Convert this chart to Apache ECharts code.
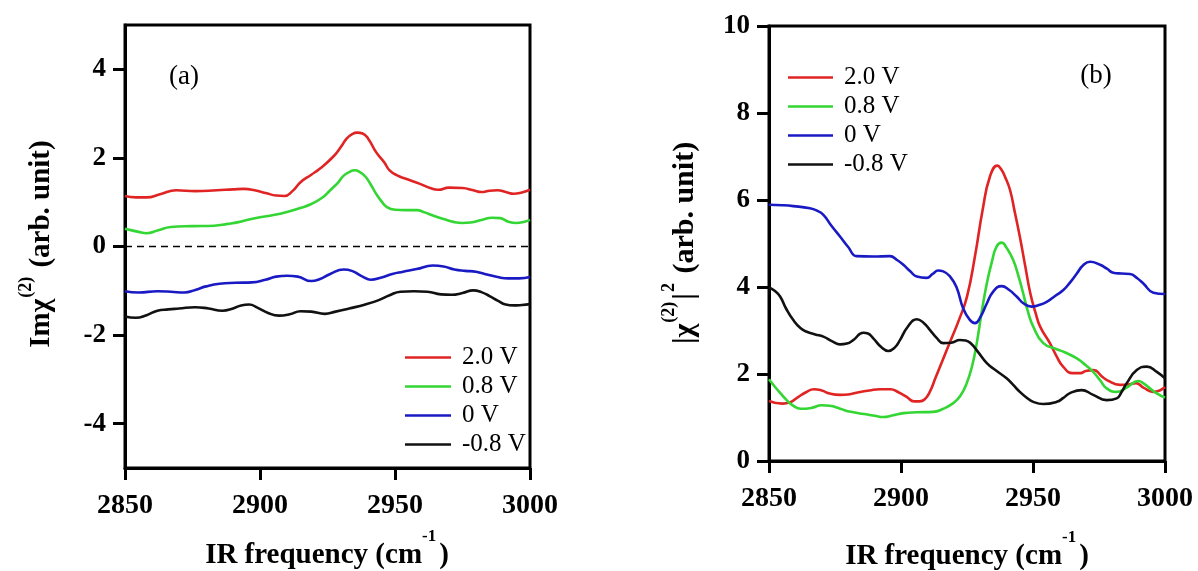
<!DOCTYPE html>
<html>
<head>
<meta charset="utf-8">
<script src="https://cdn.jsdelivr.net/npm/echarts@6/dist/echarts.min.js"></script>
<style>
html,body{margin:0;padding:0;background:#fff;}
#chart{width:1198px;height:571px;}
</style>
</head>
<body>
<div id="chart"></div>
<script>
// ---- data ----
const seriesNames = ['2.0 V', '0.8 V', '0 V', '-0.8 V'];
const freqTicks = [2850, 2900, 2950, 3000];
const aYTicks = [-4, -2, 0, 2, 4];
const bYTicks = [0, 2, 4, 6, 8, 10];

// panel (a): Im chi(2)
const aRed = [[2850,1.14],[2854,1.11],[2858,1.11],[2863,1.18],[2869,1.27],[2876,1.25],[2884,1.27],[2890,1.29],[2894,1.30],[2898,1.27],[2902.5,1.20],[2906,1.15],[2909,1.14],[2912,1.25],[2915,1.45],[2919,1.62],[2922,1.75],[2927,2.02],[2930,2.25],[2932,2.43],[2934,2.53],[2936,2.57],[2938,2.55],[2940,2.44],[2943,2.13],[2946,1.90],[2948,1.72],[2951,1.60],[2954,1.53],[2959,1.42],[2963,1.32],[2966,1.28],[2970,1.33],[2975,1.32],[2979,1.27],[2982,1.23],[2985,1.26],[2988,1.27],[2991,1.23],[2994,1.19],[2997,1.22],[3000,1.28]];
const aGreen = [[2850,0.40],[2855,0.33],[2858,0.30],[2862,0.36],[2867,0.44],[2875,0.46],[2883,0.47],[2888,0.51],[2892,0.55],[2896,0.61],[2900,0.66],[2905,0.71],[2910,0.78],[2915,0.87],[2919,0.96],[2923,1.10],[2926,1.27],[2929,1.45],[2931,1.60],[2933,1.68],[2935,1.72],[2937,1.68],[2939,1.58],[2941,1.40],[2943,1.19],[2945,1.02],[2947,0.89],[2950,0.83],[2954,0.82],[2958,0.82],[2961,0.77],[2964,0.70],[2968,0.62],[2972,0.55],[2975,0.53],[2978,0.54],[2982,0.60],[2986,0.65],[2989,0.64],[2992,0.56],[2995,0.53],[2998,0.56],[3000,0.60]];
const aBlue = [[2850,-1.01],[2855,-1.04],[2862,-1.01],[2867,-1.02],[2872,-1.04],[2876,-0.98],[2880,-0.90],[2885,-0.84],[2891,-0.82],[2897,-0.81],[2902,-0.75],[2906,-0.68],[2910,-0.66],[2914,-0.68],[2919,-0.78],[2922,-0.74],[2926,-0.62],[2931,-0.52],[2934,-0.55],[2938,-0.68],[2941,-0.75],[2945,-0.70],[2949,-0.62],[2953,-0.57],[2958,-0.51],[2964,-0.43],[2968,-0.45],[2972,-0.52],[2976,-0.55],[2980,-0.57],[2984,-0.63],[2988,-0.69],[2992,-0.72],[2996,-0.72],[3000,-0.69]];
const aBlack = [[2850,-1.58],[2854,-1.61],[2858,-1.55],[2862,-1.45],[2866,-1.42],[2870,-1.40],[2876,-1.37],[2881,-1.40],[2886,-1.45],[2890,-1.40],[2893,-1.33],[2896,-1.31],[2899,-1.38],[2903,-1.50],[2907,-1.56],[2911,-1.53],[2915,-1.46],[2919,-1.47],[2924,-1.52],[2928,-1.47],[2933,-1.40],[2939,-1.31],[2944,-1.21],[2948,-1.10],[2952,-1.02],[2957,-1.01],[2962,-1.02],[2967,-1.08],[2971,-1.09],[2975,-1.05],[2979,-0.99],[2982,-1.03],[2985,-1.12],[2988,-1.22],[2991,-1.31],[2994,-1.33],[2997,-1.32],[3000,-1.30]];

// panel (b): |chi(2)|^2
const bRed = [[2850,1.38],[2855,1.32],[2858,1.35],[2861,1.47],[2864,1.58],[2867,1.65],[2870,1.62],[2873,1.55],[2877,1.52],[2880,1.53],[2884,1.58],[2888,1.62],[2892,1.65],[2896,1.65],[2899,1.58],[2902,1.48],[2905,1.37],[2907,1.37],[2909,1.42],[2911,1.60],[2913,1.90],[2915,2.20],[2918.6,2.74],[2922,3.25],[2925,3.78],[2928,4.7],[2931,5.8],[2933.7,6.54],[2936.5,6.79],[2938,6.70],[2939.5,6.52],[2941.3,6.23],[2943,5.75],[2945,5.16],[2947,4.5],[2949,3.85],[2951,3.4],[2952.7,3.09],[2956.4,2.71],[2959,2.4],[2961.4,2.17],[2965,2.02],[2968,2.02],[2970,2.07],[2973,2.09],[2976,1.95],[2978,1.86],[2983,1.75],[2986,1.76],[2989,1.79],[2992,1.68],[2995.5,1.59],[2998,1.62],[3000,1.70]];
const bGreen = [[2850,1.88],[2853,1.65],[2856.7,1.40],[2859,1.28],[2862,1.20],[2866,1.22],[2870,1.28],[2873,1.27],[2877,1.20],[2881,1.13],[2886,1.08],[2890,1.04],[2893.3,1.01],[2897,1.05],[2901,1.10],[2906,1.12],[2912,1.13],[2916,1.20],[2919.8,1.33],[2922.5,1.5],[2924.9,1.79],[2927,2.2],[2928.7,2.71],[2930.5,3.4],[2932.5,4.08],[2934.5,4.6],[2936.2,4.93],[2938.1,5.02],[2940,4.9],[2942.5,4.62],[2944.5,4.25],[2946.3,3.85],[2948,3.45],[2950.1,3.09],[2953.9,2.71],[2959,2.57],[2962,2.50],[2966.6,2.36],[2970,2.2],[2972.8,2.05],[2975.5,1.85],[2977.9,1.67],[2981.7,1.59],[2985.5,1.69],[2989.9,1.84],[2992,1.78],[2994.3,1.67],[2997,1.55],[3000,1.46]];
const bBlue = [[2850,5.89],[2855,5.88],[2859.2,5.86],[2865.5,5.81],[2868,5.76],[2870.6,5.66],[2873.5,5.42],[2876.9,5.16],[2880,4.92],[2883.2,4.71],[2889.5,4.70],[2895.8,4.71],[2898.5,4.62],[2900.9,4.51],[2903.5,4.36],[2906,4.24],[2909.7,4.21],[2912,4.30],[2914.1,4.38],[2916,4.36],[2918.6,4.24],[2921,4.0],[2923.6,3.5],[2926,3.25],[2928,3.17],[2930,3.30],[2932.5,3.62],[2935,3.9],[2938.1,4.02],[2941,3.93],[2943.8,3.78],[2946.5,3.62],[2949.5,3.55],[2952,3.58],[2955.2,3.66],[2958.5,3.80],[2961.5,3.93],[2964,4.1],[2966.6,4.31],[2969,4.50],[2971.6,4.58],[2975.4,4.51],[2978,4.42],[2980.4,4.33],[2983.5,4.31],[2986.7,4.30],[2989.5,4.2],[2991.8,4.08],[2995.6,3.87],[3000,3.84]];
const bBlack = [[2850,3.99],[2852,3.92],[2854.2,3.78],[2856.5,3.5],[2859.2,3.24],[2862,3.05],[2864.3,2.97],[2867.5,2.91],[2870.6,2.86],[2874,2.75],[2876.9,2.68],[2879.5,2.70],[2881.9,2.78],[2885.7,2.95],[2887.5,2.93],[2889.5,2.82],[2892.5,2.62],[2895.2,2.53],[2897.5,2.60],[2899.6,2.78],[2902.5,3.08],[2906,3.26],[2908.5,3.18],[2911,3.01],[2913.5,2.83],[2916,2.71],[2919,2.72],[2922.3,2.78],[2924.5,2.77],[2926.5,2.70],[2929,2.52],[2932.5,2.25],[2936,2.08],[2940,1.90],[2942.5,1.75],[2945,1.59],[2947.5,1.46],[2950.1,1.36],[2953.9,1.31],[2959,1.36],[2961.5,1.45],[2964,1.56],[2968.4,1.63],[2972.8,1.52],[2977.9,1.40],[2981.7,1.44],[2983.5,1.58],[2985.5,1.79],[2989.3,2.09],[2993.1,2.17],[2996.9,2.05],[3000,1.90]];

// ---- styling ----
const colors = ['#e02424', '#33d633', '#1a1ac4', '#111111'];
const SERIF = '"Liberation Serif", "Times New Roman", serif';
const chart = echarts.init(document.getElementById('chart'), null, {renderer: 'canvas'});

function xAxisCfg(gi) {
  return {
    gridIndex: gi, type: 'value', min: 2850, max: 3000, interval: 50,
    axisLine: {onZero: false, lineStyle: {color: '#000', width: 3}},
    axisTick: {inside: false, length: 12, lineStyle: {color: '#000', width: 3}, customValues: freqTicks},
    axisLabel: {margin: 24, fontFamily: SERIF, fontWeight: 'bold', fontSize: 28, color: '#000', customValues: freqTicks,
      formatter: function (v) { return String(v); }},
    splitLine: {show: false}
  };
}
function yAxisCfg(gi, min, max, ticks) {
  return {
    gridIndex: gi, type: 'value', min: min, max: max,
    axisLine: {onZero: false, lineStyle: {color: '#000', width: 3}},
    axisTick: {inside: false, length: 12, lineStyle: {color: '#000', width: 3}, customValues: ticks},
    axisLabel: {margin: 19, fontFamily: SERIF, fontWeight: 'bold', fontSize: 27, color: '#000', customValues: ticks,
      formatter: function (v) { return String(v); }},
    splitLine: {show: false}
  };
}
function lineSeries(name, data, color, gi, extra) {
  return Object.assign({
    name: name, type: 'line', xAxisIndex: gi, yAxisIndex: gi, data: data,
    symbol: 'none', showSymbol: false, smooth: 0.5,
    lineStyle: {color: color, width: 2.6}, itemStyle: {color: color}, z: 3
  }, extra || {});
}
const legendText = {fontFamily: SERIF, fontSize: 25, color: '#000', lineHeight: 25, padding: [0, 0, 0, 6]};
const legendData = seriesNames.map(function (n) { return {name: n, icon: 'rect'}; });

const option = {
  animation: false,
  backgroundColor: '#fff',
  grid: [
    {left: 125, right: 668, top: 25, bottom: 103, show: true, borderColor: '#000', borderWidth: 3, backgroundColor: 'transparent'},
    {left: 769, right: 33, top: 26, bottom: 110, show: true, borderColor: '#000', borderWidth: 3, backgroundColor: 'transparent'}
  ],
  xAxis: [xAxisCfg(0), xAxisCfg(1)],
  yAxis: [yAxisCfg(0, -5, 5, aYTicks), yAxisCfg(1, 0, 10, bYTicks)],
  legend: [
    {orient: 'vertical', left: 405, top: 345, padding: 0, itemWidth: 46, itemHeight: 2.6, itemGap: 4, textStyle: legendText, data: legendData},
    {orient: 'vertical', left: 788, top: 65, padding: 0, itemWidth: 45, itemHeight: 2.6, itemGap: 4, textStyle: legendText, data: legendData}
  ],
  series: [
    lineSeries(seriesNames[0], aRed, colors[0], 0, {
      markLine: {silent: true, symbol: ['none', 'none'], label: {show: false},
        lineStyle: {color: '#000', type: [7, 5], width: 1.3}, data: [{yAxis: 0}]}
    }),
    lineSeries(seriesNames[1], aGreen, colors[1], 0),
    lineSeries(seriesNames[2], aBlue, colors[2], 0),
    lineSeries(seriesNames[3], aBlack, colors[3], 0),
    lineSeries(seriesNames[0], bRed, colors[0], 1),
    lineSeries(seriesNames[1], bGreen, colors[1], 1),
    lineSeries(seriesNames[2], bBlue, colors[2], 1),
    lineSeries(seriesNames[3], bBlack, colors[3], 1)
  ],
  graphic: [
    {type: 'text', x: 184, y: 77, style: {text: '(a)', font: '27px ' + SERIF, fill: '#000', align: 'center', verticalAlign: 'middle'}},
    {type: 'text', x: 1096, y: 76, style: {text: '(b)', font: '27px ' + SERIF, fill: '#000', align: 'center', verticalAlign: 'middle'}},
    {type: 'text', x: 327, y: 556, style: {
      text: 'IR frequency (cm{s|-1})', font: 'bold 29px ' + SERIF, fill: '#000', align: 'center', verticalAlign: 'middle', lineHeight: 56,
      rich: {s: {fontFamily: SERIF, fontWeight: 'bold', fontSize: 17, verticalAlign: 'top', lineHeight: 17, padding: [0, 3, 0, 0]}}}},
    {type: 'text', x: 967, y: 557, style: {
      text: 'IR frequency (cm{s|-1})', font: 'bold 29px ' + SERIF, fill: '#000', align: 'center', verticalAlign: 'middle', lineHeight: 56,
      rich: {s: {fontFamily: SERIF, fontWeight: 'bold', fontSize: 17, verticalAlign: 'top', lineHeight: 17, padding: [0, 3, 0, 0]}}}},
    {type: 'text', x: 42, y: 244, rotation: Math.PI / 2, style: {
      text: 'Im\u03c7{s|(2)} (arb. unit)', font: 'bold 29px ' + SERIF, fill: '#000', align: 'center', verticalAlign: 'middle', lineHeight: 50,
      rich: {s: {fontFamily: SERIF, fontWeight: 'bold', fontSize: 18, verticalAlign: 'top', lineHeight: 18, padding: [0, 2, 0, 1]}}}},
    {type: 'text', x: 685, y: 243, rotation: Math.PI / 2, style: {
      text: '|\u03c7{s|(2)}|{s|2} (arb. unit)', font: 'bold 30px ' + SERIF, fill: '#000', align: 'center', verticalAlign: 'middle', lineHeight: 50,
      rich: {s: {fontFamily: SERIF, fontWeight: 'bold', fontSize: 18, verticalAlign: 'top', lineHeight: 18, padding: [0, 2, 0, 1]}}}}
  ]
};
chart.setOption(option);
</script>
</body>
</html>
